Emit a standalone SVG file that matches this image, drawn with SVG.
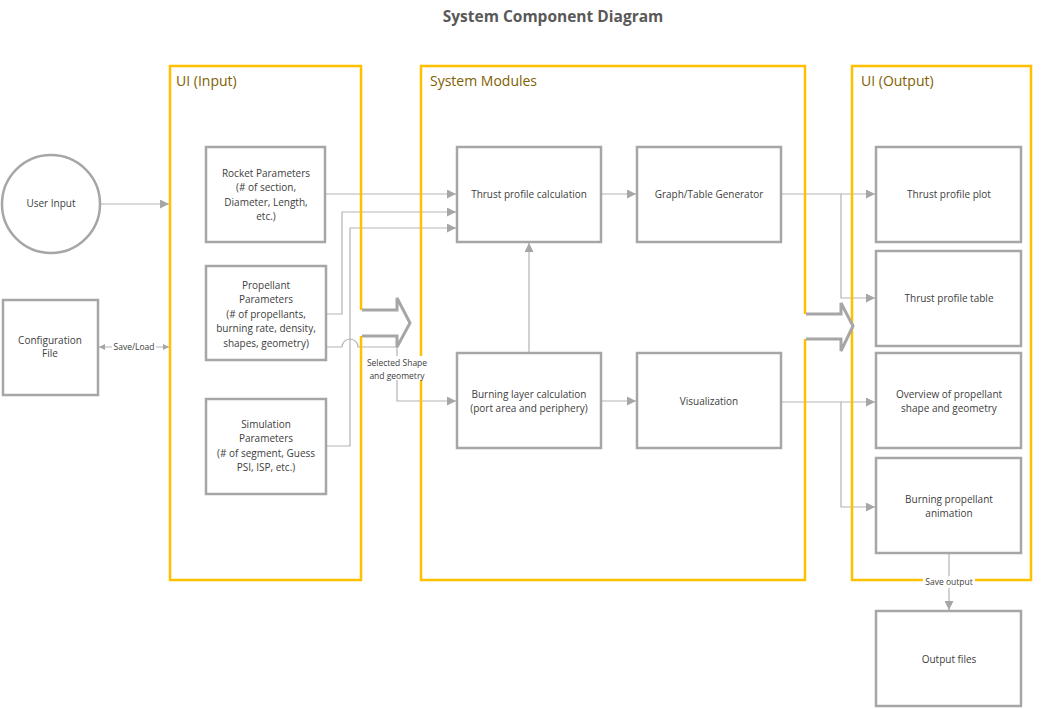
<svg xmlns="http://www.w3.org/2000/svg" width="1047" height="709" viewBox="0 0 1047 709">
<style>
.node{fill:#fff;stroke:#A6A6A6;stroke-width:2.5}
.cont{fill:none;stroke:#FFC000;stroke-width:2.5}
.clabel{font-family:"Open Sans","Noto Sans","DejaVu Sans",sans-serif;font-size:14px;fill:#7F6000}
.t{font-family:"Open Sans","Noto Sans","DejaVu Sans",sans-serif;font-size:10px;fill:#404040;text-anchor:middle}
.s{font-family:"Open Sans","Noto Sans","DejaVu Sans",sans-serif;font-size:8.5px;fill:#404040;text-anchor:middle}
.c{fill:none;stroke:#B3B3B3;stroke-width:1.2}
.blk{fill:none;stroke:#A6A6A6;stroke-width:3;stroke-linejoin:miter}
</style>
<defs>
<marker id="ah" viewBox="0 0 10 10" refX="10" refY="5" markerUnits="userSpaceOnUse" markerWidth="11" markerHeight="9" orient="auto-start-reverse"><path d="M0,0 L10,5 L0,10 z" fill="#A6A6A6"/></marker>
<marker id="ahs" viewBox="0 0 10 10" refX="10" refY="5" markerUnits="userSpaceOnUse" markerWidth="7" markerHeight="6" orient="auto-start-reverse"><path d="M0,0 L10,5 L0,10 z" fill="#A6A6A6"/></marker>
</defs>
<rect width="1047" height="709" fill="#fff"/>
<text x="553" y="22" text-anchor="middle" font-family="'Open Sans','Noto Sans',sans-serif" font-size="15.5" font-weight="bold" fill="#595959">System Component Diagram</text>

<g id="connectors">
<line class="c" x1="101" y1="204" x2="169" y2="204" marker-end="url(#ah)"/>
<line class="c" x1="99" y1="347" x2="169" y2="347" marker-start="url(#ahs)" marker-end="url(#ahs)"/>
<line class="c" x1="326" y1="194" x2="456" y2="194" marker-end="url(#ah)"/>
<polyline class="c" points="326,314 342,314 342,212 456,212" marker-end="url(#ah)"/>
<polyline class="c" points="326,446 350,446 350,228 456,228" marker-end="url(#ah)"/>
<path class="c" d="M326,347 L342,347 A8,8 0 0 1 358,347 L397,347 L397,401 L456,401" marker-end="url(#ah)"/>
<line class="c" x1="601" y1="194" x2="636" y2="194" marker-end="url(#ah)"/>
<line class="c" x1="529" y1="353" x2="529" y2="243" marker-end="url(#ah)"/>
<line class="c" x1="601" y1="401" x2="636" y2="401" marker-end="url(#ah)"/>
<line class="c" x1="781" y1="194" x2="875" y2="194" marker-end="url(#ah)"/>
<polyline class="c" points="841,194 841,298 875,298" marker-end="url(#ah)"/>
<line class="c" x1="781" y1="402" x2="875" y2="402" marker-end="url(#ah)"/>
<polyline class="c" points="841,402 841,507 875,507" marker-end="url(#ah)"/>
<line class="c" x1="949" y1="554" x2="949" y2="610" marker-end="url(#ah)"/>
</g>

<g id="ui-input">
<rect class="cont" x="170" y="66" width="191" height="514"/>
<text class="clabel" x="176" y="86">UI (Input)</text>
</g>
<g id="system-modules">
<rect class="cont" x="421" y="66" width="384" height="514"/>
<text class="clabel" x="430" y="86">System Modules</text>
</g>
<g id="ui-output">
<rect class="cont" x="852" y="66" width="179" height="514"/>
<text class="clabel" x="861" y="86">UI (Output)</text>
</g>

<g id="block-arrow-1">
<polygon points="358,310 397,310 397,298 410,323 397,347 397,336 358,336" fill="#fff"/>
<polyline class="blk" points="362,310 397,310 397,298 410,323 397,347 397,336 362,336"/>
</g>
<g id="block-arrow-2">
<polygon points="802,314 841,314 841,303 853,326 841,351 841,339 802,339" fill="#fff"/>
<polyline class="blk" points="806,314 841,314 841,303 853,326 841,351 841,339 806,339"/>
</g>

<g id="user-input"><circle class="node" cx="51" cy="204" r="49"/><text class="t" x="51" y="207">User Input</text></g>
<g id="config-file"><rect class="node" x="3" y="300" width="95" height="95"/><text class="t" x="50" y="344">Configuration</text><text class="t" x="50" y="357">File</text></g>
<g id="rocket-params"><rect class="node" x="206" y="147" width="119" height="95"/>
<text class="t" x="266" y="177">Rocket Parameters</text><text class="t" x="266" y="191">(# of section,</text><text class="t" x="266" y="206">Diameter, Length,</text><text class="t" x="266" y="220">etc.)</text></g>
<g id="propellant-params"><rect class="node" x="206" y="266" width="120" height="94"/>
<text class="t" x="266" y="289">Propellant</text><text class="t" x="266" y="303">Parameters</text><text class="t" x="266" y="318">(# of propellants,</text><text class="t" x="266" y="332">burning rate, density,</text><text class="t" x="266" y="347">shapes, geometry)</text></g>
<g id="simulation-params"><rect class="node" x="206" y="399" width="120" height="95"/>
<text class="t" x="266" y="428">Simulation</text><text class="t" x="266" y="442">Parameters</text><text class="t" x="266" y="457">(# of segment, Guess</text><text class="t" x="266" y="471">PSI, ISP, etc.)</text></g>
<g id="thrust-calc"><rect class="node" x="457" y="147" width="144" height="95"/><text class="t" x="529" y="198">Thrust profile calculation</text></g>
<g id="graph-table"><rect class="node" x="637" y="147" width="144" height="95"/><text class="t" x="709" y="198">Graph/Table Generator</text></g>
<g id="burning-layer"><rect class="node" x="457" y="353" width="144" height="95"/><text class="t" x="529" y="398">Burning layer calculation</text><text class="t" x="529" y="412">(port area and periphery)</text></g>
<g id="visualization"><rect class="node" x="637" y="353" width="144" height="95"/><text class="t" x="709" y="405">Visualization</text></g>
<g id="thrust-plot"><rect class="node" x="876" y="147" width="145" height="95"/><text class="t" x="949" y="198">Thrust profile plot</text></g>
<g id="thrust-table"><rect class="node" x="876" y="251" width="145" height="95"/><text class="t" x="949" y="302">Thrust profile table</text></g>
<g id="overview"><rect class="node" x="876" y="353" width="145" height="95"/><text class="t" x="949" y="398">Overview of propellant</text><text class="t" x="949" y="412">shape and geometry</text></g>
<g id="animation"><rect class="node" x="876" y="458" width="145" height="95"/><text class="t" x="949" y="503">Burning propellant</text><text class="t" x="949" y="517">animation</text></g>
<g id="output-files"><rect class="node" x="876" y="611" width="145" height="95"/><text class="t" x="949" y="663">Output files</text></g>

<g id="labels">
<rect x="112" y="341" width="44" height="12" fill="#fff"/><text class="s" x="134" y="350">Save/Load</text>
<rect x="363" y="356" width="68" height="24" fill="#fff"/><text class="s" x="397" y="366">Selected Shape</text><text class="s" x="397" y="379">and geometry</text>
<rect x="923" y="576" width="52" height="12" fill="#fff"/><text class="s" x="949" y="585">Save output</text>
</g>
</svg>
